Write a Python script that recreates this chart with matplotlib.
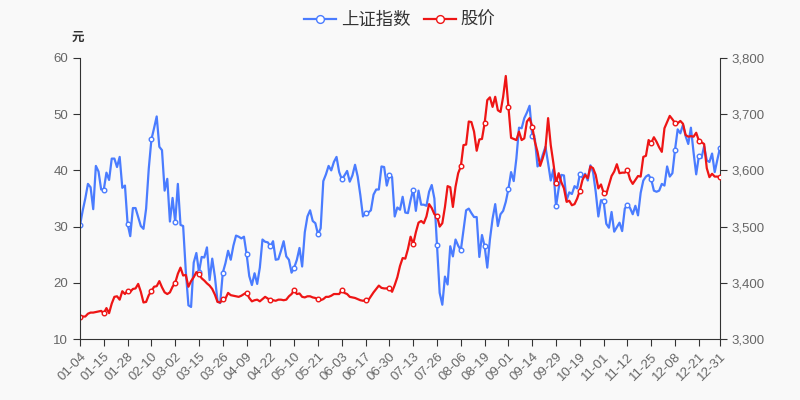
import pandas as pd
import matplotlib
matplotlib.use("Agg")
import matplotlib.pyplot as plt
from matplotlib.ticker import FuncFormatter, MultipleLocator

plt.rcParams['font.family'] = ['Liberation Sans', 'Noto Sans CJK SC', 'DejaVu Sans']

# === Handelstage 2021 (Wochentage ohne Feiertage) ===
feiertage = ["2021-01-01", "2021-02-11", "2021-02-12", "2021-02-15", "2021-02-16",
             "2021-02-17", "2021-04-05", "2021-05-03", "2021-05-04", "2021-05-05",
             "2021-06-14", "2021-09-20", "2021-09-21", "2021-10-01", "2021-10-04",
             "2021-10-05", "2021-10-06", "2021-10-07"]
tage = pd.bdate_range("2021-01-01", "2021-12-31")
tage = tage[~tage.isin(pd.to_datetime(feiertage))]
datum = [d.strftime("%m-%d") for d in tage]

# === 上证指数 (rechte Achse) ===
index_jan = [3502, 3528, 3550, 3576, 3570, 3531, 3608, 3598, 3566, 3566,
             3596, 3583, 3621, 3621, 3606, 3624, 3569, 3573, 3505, 3483]
index_feb = [3533, 3533, 3517, 3501, 3496, 3532, 3603, 3655, 3675, 3696,
             3642, 3636, 3564, 3585, 3509]
index_mar = [3551, 3508, 3576, 3503, 3501, 3421, 3360, 3357, 3436, 3453,
             3419, 3446, 3445, 3463, 3405, 3443, 3411, 3367, 3364, 3418,
             3435, 3457, 3441]
index_apr = [3466, 3484, 3482, 3479, 3482, 3451, 3412, 3396, 3417, 3398,
             3427, 3477, 3473, 3472, 3465, 3474, 3441, 3442, 3457, 3474, 3447]
index_mai = [3441, 3418, 3427, 3441, 3462, 3429, 3490, 3518, 3529, 3510,
             3506, 3486, 3497, 3581, 3593, 3608, 3600, 3615]
index_jun = [3624, 3597, 3584, 3591, 3599, 3580, 3591, 3610, 3589, 3556,
             3518, 3525, 3525, 3529, 3557, 3566, 3566, 3607, 3606, 3573, 3591]
index_jul = [3588, 3518, 3534, 3530, 3553, 3525, 3524, 3547, 3566, 3528,
             3564, 3539, 3539, 3537, 3562, 3574, 3550, 3467, 3382, 3361,
             3411, 3397]
index_aug = [3465, 3447, 3477, 3466, 3458, 3494, 3529, 3532, 3524, 3517,
             3517, 3446, 3485, 3465, 3427, 3477, 3514, 3540, 3501, 3522,
             3528, 3544]
index_sep = [3567, 3597, 3581, 3621, 3676, 3675, 3693, 3703, 3715, 3662,
             3656, 3607, 3613, 3628, 3642, 3613, 3582, 3602, 3536, 3568]
index_okt = [3592, 3591, 3547, 3561, 3558, 3572, 3568, 3593, 3587, 3594,
             3582, 3609, 3597, 3562, 3518, 3547]
index_nov = [3545, 3505, 3498, 3526, 3491, 3499, 3507, 3492, 3532, 3539,
             3533, 3522, 3537, 3520, 3560, 3582, 3589, 3592, 3584, 3564,
             3562, 3564]
index_dez = [3576, 3573, 3607, 3589, 3595, 3637, 3673, 3666, 3681, 3661,
             3647, 3676, 3632, 3593, 3625, 3622, 3643, 3618, 3615, 3630,
             3597, 3619, 3640]
shanghai = (index_jan + index_feb + index_mar + index_apr + index_mai + index_jun
            + index_jul + index_aug + index_sep + index_okt + index_nov + index_dez)

# === 股价 (linke Achse, 元) ===
kurs = [14.0, 14.0, 14.0, 14.5, 14.7, 14.7, 14.8, 14.9, 15.0, 14.6,
        15.5, 14.6, 16.3, 17.5, 17.6, 17.0, 18.5, 18.0, 18.6, 18.4,
        18.9, 19.0, 19.8, 18.4, 16.5, 16.6, 17.8, 18.5, 19.3, 19.4,
        20.3, 19.2, 18.3, 18.0, 18.3, 19.3, 20.0, 21.6, 22.7, 21.3,
        21.4, 19.3, 20.3, 21.0, 21.9, 21.6, 20.8, 20.4, 19.9, 19.5,
        18.9, 17.9, 16.6, 16.5, 17.05, 17.2, 18.2, 17.8, 17.7, 17.6,
        17.5, 17.7, 18.0, 18.25, 17.3, 16.7, 16.9, 17.0, 16.7, 17.1,
        17.5, 17.2, 16.9, 16.9, 16.8, 17.0, 17.0, 16.9, 17.0, 17.6,
        18.0, 18.7, 18.0, 18.1, 17.5, 17.4, 17.6, 17.6, 17.4, 17.3,
        17.05, 16.9, 17.1, 17.5, 17.5, 17.7, 18.0, 18.0, 18.0, 18.7,
        18.2, 18.0, 17.5, 17.4, 17.3, 17.1, 16.9, 16.8, 16.9, 16.9,
        17.6, 18.3, 18.9, 19.5, 19.1, 19.0, 19.0, 19.1, 18.4, 19.6,
        21.0, 23.0, 24.4, 24.3, 26.0, 28.2, 26.9, 29.0, 30.7, 31.0,
        30.6, 31.8, 34.0, 33.3, 32.2, 31.9, 30.0, 30.6, 33.5, 37.2,
        37.0, 33.5, 37.1, 39.5, 40.7, 44.5, 44.6, 48.7, 48.6, 46.9,
        43.5, 45.5, 45.6, 48.4, 52.5, 53.0, 51.3, 53.1, 50.7, 50.4,
        53.1, 56.8, 51.2, 45.8, 45.6, 45.4, 46.9, 45.4, 45.7, 48.7,
        49.3, 47.8, 45.1, 43.3, 40.8, 42.2, 43.9, 49.3, 44.5, 41.3,
        37.7, 39.5, 37.9, 36.8, 34.4, 34.6, 33.8, 34.0, 35.0, 36.4,
        38.3, 39.2, 38.6, 40.7, 40.4, 39.2, 36.8, 37.5, 36.0, 35.8,
        37.4, 39.0, 39.8, 41.1, 39.5, 39.6, 39.6, 40.0, 38.4, 37.6,
        38.3, 39.0, 38.9, 42.4, 42.6, 45.4, 44.9, 45.9, 45.1, 44.1,
        43.3, 47.5, 48.6, 49.7, 49.1, 48.4, 48.4, 48.8, 48.3, 46.3,
        46.0, 46.1, 46.0, 46.7, 45.3, 45.0, 44.7, 40.4, 38.8, 39.4,
        38.9, 38.9, 38.8]

n = len(datum)
x = list(range(n))
beschriftet = list(range(0, n - 1, 9)) + [n - 1]

blau = "#4a7cff"
rot = "#ee1515"
grau = "#666666"
achse = "#333333"

# === Diagramm ===
fig = plt.figure(figsize=(8, 4), dpi=100, facecolor="#f9f9f9")
ax = fig.add_axes([0.1, 0.1525, 0.8, 0.7025])
ax2 = ax.twinx()
ax.set_zorder(ax2.get_zorder() + 1)
ax.patch.set_visible(False)
ax2.set_facecolor("#f9f9f9")

l1, = ax2.plot(x, shanghai, color=blau, lw=1.6, marker="o", ms=3.3,
               mfc="white", mec=blau, mew=1, markevery=beschriftet, label="上证指数")
l2, = ax.plot(x, kurs, color=rot, lw=1.6, marker="o", ms=3.3,
              mfc="white", mec=rot, mew=1, markevery=beschriftet, label="股价")

ax.set_xlim(0, n - 1)
ax.set_ylim(10, 60)
ax.yaxis.set_major_locator(MultipleLocator(10))
ax2.set_ylim(3300, 3800)
ax2.yaxis.set_major_locator(MultipleLocator(100))
ax2.yaxis.set_major_formatter(FuncFormatter(lambda v, p: f"{int(v):,}"))

ax.set_xticks(beschriftet)
ax.set_xticklabels([datum[i] for i in beschriftet], rotation=45, ha="right",
                   rotation_mode="anchor")

for a in (ax, ax2):
    a.spines["top"].set_visible(False)
    for s in a.spines.values():
        s.set_color(achse)
    a.tick_params(colors=achse, labelcolor=grau, labelsize=9.5, length=5)
ax.spines["right"].set_visible(False)
ax2.spines["left"].set_visible(False)
ax2.spines["bottom"].set_visible(False)

fig.text(0.097, 0.905, "元", ha="center", va="center", fontsize=9, color=achse,
         fontweight="bold")

fig.legend(handles=[l1, l2], loc="upper center", bbox_to_anchor=(0.5, 1.01),
           ncol=2, frameon=False, fontsize=12.5, handlelength=1.8,
           handletextpad=0.3, columnspacing=0.8, labelcolor="#333333",
           markerscale=1.7)

fig.savefig("out.png", dpi=100, facecolor=fig.get_facecolor())
